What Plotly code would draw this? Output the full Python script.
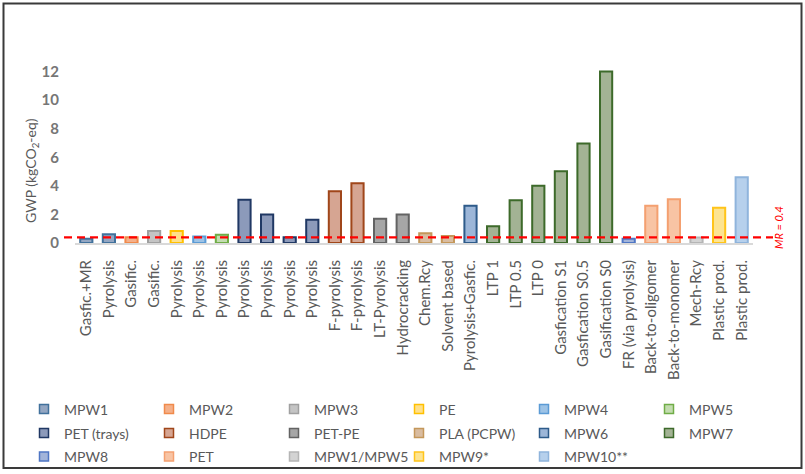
import plotly.graph_objects as go

# ---------------- data ----------------
categories = [
    "Gasfic.+MR", "Pyrolysis", "Gasific.", "Gasific.", "Pyrolysis", "Pyrolysis",
    "Pyrolysis", "Pyrolysis", "Pyrolysis", "Pyrolysis", "Pyrolysis", "F-pyrolysis",
    "F-pyrolysis", "LT-Pyrolysis", "Hydrocracking", "Chem.Rcy", "Solvent based",
    "Pyrolysis+Gasfic.", "LTP 1", "LTP 0.5", "LTP 0", "Gasfication S1",
    "Gasfication S0.5", "Gasification S0", "FR (via pyrolysis)", "Back-to-oligomer",
    "Back-to-monomer", "Mech-Rcy", "Plastic prod.", "Plastic prod.",
]
gwp = [
    0.3, 0.62, 0.4, 0.84, 0.84, 0.45,
    0.58, 3.03, 1.99, 0.4, 1.62, 3.63,
    4.19, 1.69, 1.99, 0.68, 0.49,
    2.6, 1.17, 3.0, 4.0, 5.03,
    6.97, 12.0, 0.3, 2.6,
    3.07, 0.38, 2.46, 4.6,
]
feedstock = [
    "MPW1", "MPW1", "MPW2", "MPW3", "PE", "MPW4",
    "MPW5", "PET (trays)", "PET (trays)", "PET (trays)", "PET (trays)", "HDPE",
    "HDPE", "PET-PE", "PET-PE", "PLA (PCPW)", "PLA (PCPW)",
    "MPW6", "MPW7", "MPW7", "MPW7", "MPW7",
    "MPW7", "MPW7", "MPW8", "PET",
    "PET", "MPW1/MPW5", "MPW9*", "MPW10**",
]
legend_order = [
    "MPW1", "MPW2", "MPW3", "PE", "MPW4", "MPW5",
    "PET (trays)", "HDPE", "PET-PE", "PLA (PCPW)", "MPW6", "MPW7",
    "MPW8", "PET", "MPW1/MPW5", "MPW9*", "MPW10**",
]
mr_value = 0.4
y_ticks = [0, 2, 4, 6, 8, 10, 12]

# ---------------- styles ----------------
fill = {
    "MPW1": "#93a6c2", "MPW2": "#f4b08a", "MPW3": "#c4c4c4", "PE": "#ffe08a",
    "MPW4": "#9dc3e6", "MPW5": "#c3dcb0", "PET (trays)": "#8c9aba", "HDPE": "#d6a592",
    "PET-PE": "#a6a6a6", "PLA (PCPW)": "#d9bca0", "MPW6": "#9cb6d8", "MPW7": "#a3b394",
    "MPW8": "#a2b4da", "PET": "#f8c4a4", "MPW1/MPW5": "#d3d3d3", "MPW9*": "#fde491",
    "MPW10**": "#b6d0ec",
}
edge = {
    "MPW1": "#41719c", "MPW2": "#f08a4b", "MPW3": "#a0a0a0", "PE": "#ffc000",
    "MPW4": "#5b9bd5", "MPW5": "#70ad47", "PET (trays)": "#203864", "HDPE": "#a0461a",
    "PET-PE": "#636363", "PLA (PCPW)": "#c4975a", "MPW6": "#2e5b8a", "MPW7": "#3d6a2a",
    "MPW8": "#4f76c4", "PET": "#f4a070", "MPW1/MPW5": "#b5b5b5", "MPW9*": "#ffc41a",
    "MPW10**": "#8fb4dc",
}

FONT = "Lato, 'Open Sans', sans-serif"
GRAY = "#595959"

W, H = 805, 474
ML, MR_, MT, MB = 75, 52, 63, 231
PW, PH = W - ML - MR_, H - MT - MB


def px_x(p):
    return (p - ML) / PW


def px_y(p):
    return (H - MB - p) / PH


PER_ROW = 6
row_centers = [409.5, 433.5, 457]
legend_keys = ["legend", "legend2", "legend3"]

fig = go.Figure()

# bars: one trace per feedstock
for name in legend_order:
    idx = [i for i, f in enumerate(feedstock) if f == name]
    fig.add_trace(go.Bar(
        x=idx, y=[gwp[i] for i in idx], name=name, showlegend=False,
        width=0.54,
        marker=dict(color=fill[name], line=dict(color=edge[name], width=2)),
        hovertext=[categories[i] for i in idx],
    ))

# legend entries (small square swatches), one legend per row
for k, name in enumerate(legend_order):
    fig.add_trace(go.Scatter(
        x=[None], y=[None], mode="markers", name=name,
        legend=legend_keys[k // PER_ROW],
        marker=dict(symbol="square", size=9, color=fill[name],
                    line=dict(color=edge[name], width=1.5)),
    ))

# MR dashed line
fig.add_shape(type="line", xref="paper", yref="y",
              x0=px_x(64), x1=px_x(773), y0=mr_value, y1=mr_value,
              line=dict(color="#ff0000", width=2.2, dash="8px,5px"))
fig.add_annotation(xref="paper", yref="paper", x=px_x(778), y=px_y(228),
                   xanchor="center", yanchor="middle",
                   text="<i>MR = 0.4</i>", textangle=-90, showarrow=False,
                   font=dict(family=FONT, size=11, color="#ff0000"))

# y-axis title
fig.add_annotation(xref="paper", yref="paper", x=px_x(31), y=px_y(171),
                   xanchor="center", yanchor="middle",
                   text="GWP (kgCO<sub>2</sub>-eq)", textangle=-90, showarrow=False,
                   font=dict(family=FONT, size=14, color=GRAY))

# outer frame
fig.add_shape(type="rect", xref="paper", yref="paper",
              x0=px_x(3.5), x1=px_x(801.5), y0=px_y(468), y1=px_y(3.5),
              line=dict(color="#3a3a3a", width=2), layer="above")

legend_style = dict(
    orientation="h", x=px_x(24), xanchor="left", yanchor="middle",
    entrywidth=80, entrywidthmode="pixels",
    font=dict(family=FONT, size=14, color=GRAY),
    bgcolor="rgba(0,0,0,0)", itemclick=False, itemdoubleclick=False,
)

fig.update_layout(
    width=W, height=H,
    margin=dict(l=ML, r=MR_, t=MT, b=MB, autoexpand=False),
    paper_bgcolor="white", plot_bgcolor="white",
    barmode="overlay",
    font=dict(family=FONT, color=GRAY),
    showlegend=True,
    legend=dict(legend_style, y=px_y(row_centers[0])),
    legend2=dict(legend_style, y=px_y(row_centers[1])),
    legend3=dict(legend_style, y=px_y(row_centers[2])),
    xaxis=dict(
        range=[-0.5, len(categories) - 0.5],
        tickmode="array", tickvals=list(range(len(categories))), ticktext=categories,
        tickangle=-90, tickfont=dict(family=FONT, size=15, color=GRAY),
        showline=True, linecolor="#d9d9d9", linewidth=2,
        showgrid=False, zeroline=False, ticks="", ticklabelstandoff=9,
        automargin=False,
    ),
    yaxis=dict(
        range=[0, 12.6], tickmode="array", tickvals=y_ticks,
        tickfont=dict(family=FONT, size=15, color="#767676", weight="bold"),
        showline=False, showgrid=False, zeroline=False, ticks="",
        ticklabelstandoff=15,
        automargin=False,
    ),
)

fig.write_html("out.html", config={"displayModeBar": False},
               post_script="document.body.style.margin='0px';")
